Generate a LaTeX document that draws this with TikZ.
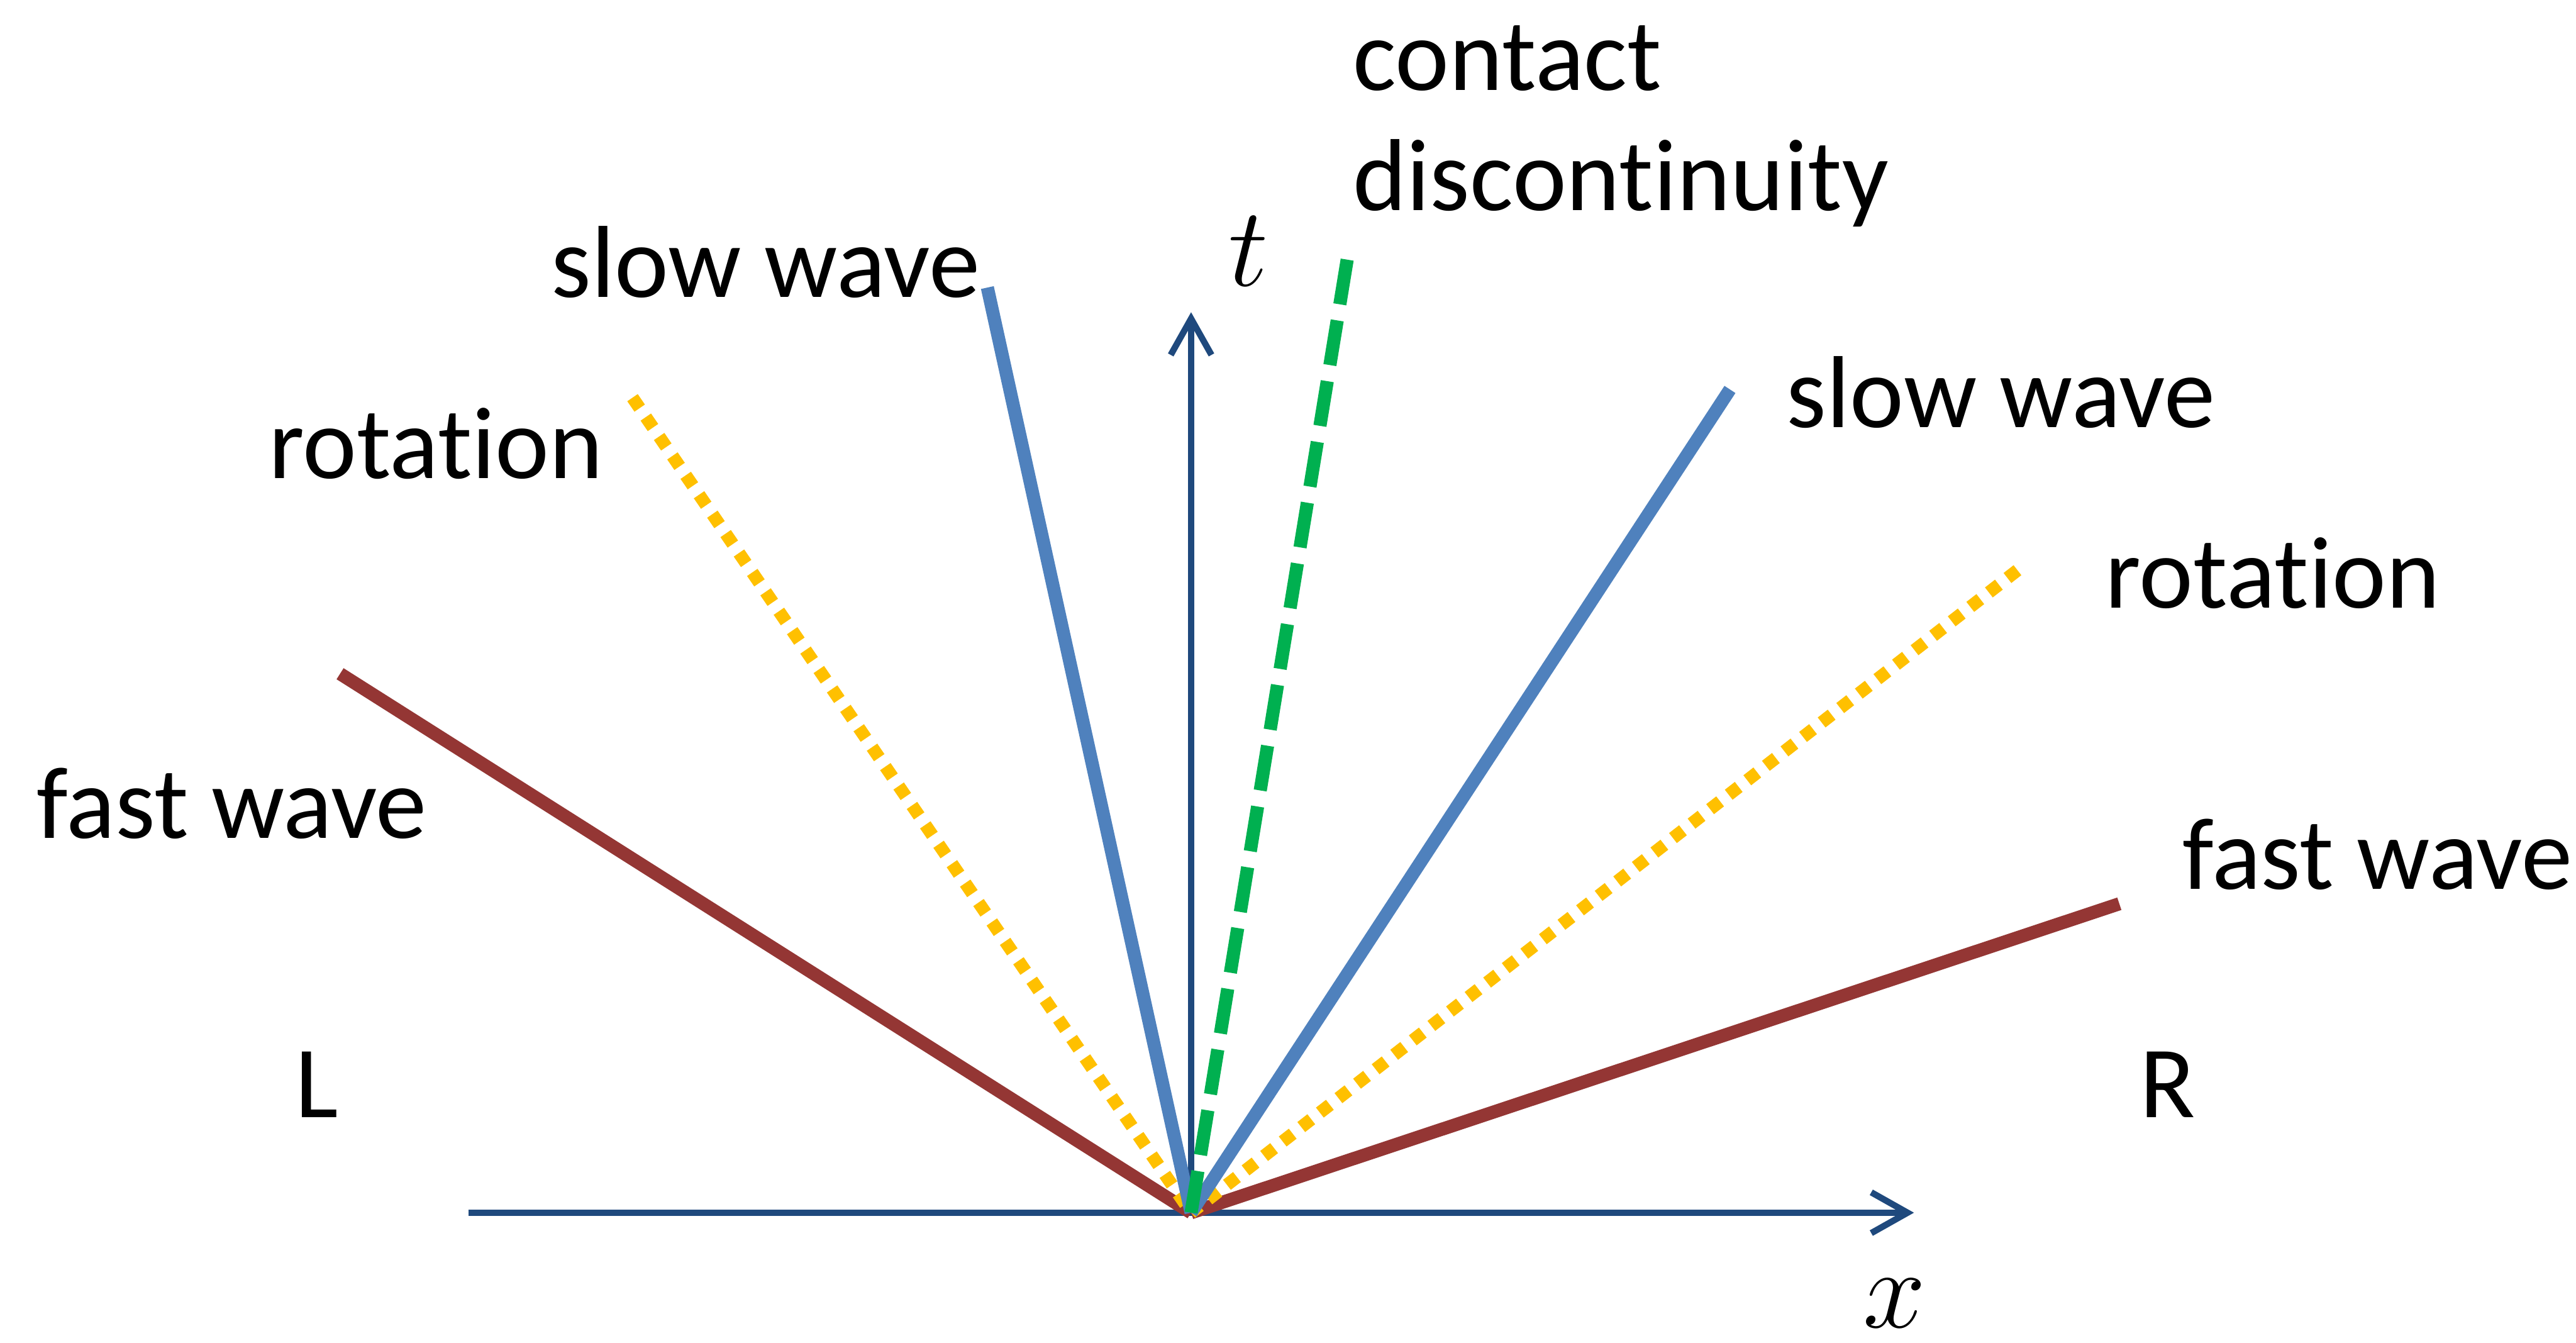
\documentclass[tikz,border=0pt]{standalone}
\usepackage{fontspec}
\setmainfont{Carlito}[Ligatures=NoCommon]
\usetikzlibrary{arrows.meta}
\definecolor{axisblue}{HTML}{1F497D}
\definecolor{wblue}{HTML}{4F81BD}
\definecolor{wbrown}{HTML}{943634}
\definecolor{wyellow}{HTML}{FFC000}
\definecolor{wgreen}{HTML}{00B050}
\tikzset{
  axisline/.style={draw=axisblue, line width=1.4pt, -{Straight Barb[length=8pt,width=9pt,line width=1.4pt]}},
  fastline/.style={draw=wbrown, line width=2.9pt},
  slowline/.style={draw=wblue, line width=2.9pt},
  rotline/.style={draw=wyellow, line width=2.8pt, dash pattern=on 2.8pt off 2.4pt},
  contline/.style={draw=wgreen, line width=2.9pt, dash pattern=on 10pt off 3.6pt},
  lbl/.style={inner sep=0pt, anchor=base west, font=\fontsize{22.6}{26.5}\selectfont, align=left},
  mathlbl/.style={inner sep=0pt, font=\fontsize{30}{32}\selectfont}
}
\begin{document}
\begin{tikzpicture}[x=0.012755cm, y=-0.012755cm]
\useasboundingbox (0,0) rectangle (1568,817);
\coordinate (O) at (725,738);
\coordinate (xs) at (285,738);
\coordinate (xe) at (1165,738);
\coordinate (te) at (725,190);
\coordinate (lf) at (207,410);
\coordinate (lr) at (385,242);
\coordinate (ls) at (601,175);
\coordinate (cd) at (820,158);
\coordinate (rs) at (1053,237);
\coordinate (rr) at (1228,347);
\coordinate (rf) at (1290,550);
% axes
\draw[axisline] (xs) -- (xe);
\draw[axisline] (O) -- (te);
% waves
\draw[fastline] (lf) -- (O);
\draw[fastline] (rf) -- (O);
\draw[rotline] (lr) -- (O);
\draw[rotline] (rr) -- (O);
\draw[slowline] (ls) -- (O);
\draw[slowline] (rs) -- (O);
\draw[contline] (cd) -- (O);
% labels
\node[lbl] (tcd) at (823,128) {contact\\discontinuity};
\node[lbl] (tls) at (335,181) {slow wave};
\node[lbl] (tlr) at (163,291) {rotation};
\node[lbl] (trs) at (1087,260) {slow wave};
\node[lbl] (trr) at (1281,370) {rotation};
\node[lbl] (tlf) at (22,510) {fast wave};
\node[lbl] (trf) at (1328,541) {fast wave};
\node[lbl] (tL) at (179,680) {L};
\node[lbl] (tR) at (1302,680) {R};
\node[mathlbl] (tt) at (760,153) {$t$};
\node[mathlbl] (tx) at (1153,793) {$x$};
\end{tikzpicture}
\end{document}
